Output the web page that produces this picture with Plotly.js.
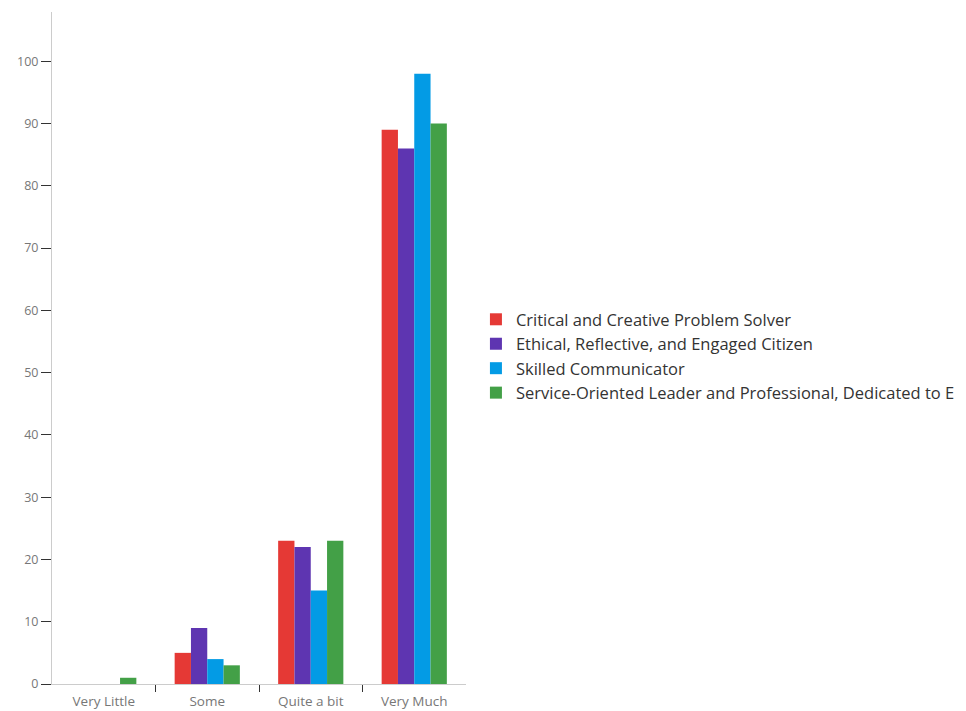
<!DOCTYPE html>
<html>
<head>
<meta charset="utf-8">
<script src="https://cdn.plot.ly/plotly-3.0.1.min.js"></script>
<style>html,body{margin:0;padding:0;background:#fff;overflow:hidden}#chart{width:966px;height:711px}</style>
</head>
<body>
<div id="chart"></div>
<script>
const categories = ["Very Little", "Some", "Quite a bit", "Very Much"];
const seriesNames = [
  "Critical and Creative Problem Solver",
  "Ethical, Reflective, and Engaged Citizen",
  "Skilled Communicator",
  "Service-Oriented Leader and Professional, Dedicated to E"
];
const criticalCreative = [0, 5, 23, 89];
const ethicalReflective = [0, 9, 22, 86];
const skilledCommunicator = [0, 4, 15, 98];
const serviceOriented = [1, 3, 23, 90];
const yTickVals = [0, 10, 20, 30, 40, 50, 60, 70, 80, 90, 100];
const boundaryTicks = [0.5, 1.5, 2.5];

const colors = ["#E53935", "#5E35B1", "#039BE5", "#43A047"];
const values = [criticalCreative, ethicalReflective, skilledCommunicator, serviceOriented];

const traces = values.map((v, i) => ({
  type: "bar",
  name: seriesNames[i],
  x: categories.map((c, j) => j),
  y: v,
  marker: {color: colors[i], line: {width: 0}},
  hoverinfo: "x+y+name"
}));
traces.push({type: "scatter", x: boundaryTicks, y: boundaryTicks.map(() => 0), xaxis: "x2", mode: "none", showlegend: false, hoverinfo: "skip"});

const fontFam = "'Open Sans', 'Noto Sans', sans-serif";
const layout = {
  width: 966, height: 711,
  margin: {l: 52, r: 500, t: 12, b: 27, pad: 0, autoexpand: false},
  paper_bgcolor: "#ffffff", plot_bgcolor: "#ffffff",
  barmode: "group", bargap: 0.37, bargroupgap: 0,
  font: {family: fontFam, color: "#333"},
  xaxis: {
    range: [-0.5, 3.5], tickmode: "array", tickvals: [0, 1, 2, 3], ticktext: categories,
    showline: true, linecolor: "#cccccc", linewidth: 1, showgrid: false, zeroline: false,
    ticks: "", ticklabelstandoff: 5, tickfont: {size: 13.5, color: "#777", family: fontFam}, fixedrange: true
  },
  xaxis2: {
    overlaying: "x", range: [-0.5, 3.5], tickmode: "array", tickvals: boundaryTicks,
    showticklabels: false, ticks: "outside", ticklen: 7, tickwidth: 1, tickcolor: "#333",
    showgrid: false, zeroline: false, showline: false, side: "bottom", anchor: "y"
  },
  yaxis: {
    range: [0, 107.9], tickmode: "array", tickvals: yTickVals,
    showline: true, linecolor: "#cccccc", linewidth: 1, showgrid: false, zeroline: false,
    ticks: "outside", ticklen: 10, tickwidth: 1, tickcolor: "#333",
    tickfont: {size: 12.5, color: "#777", family: fontFam}
  },
  showlegend: true,
  legend: {
    x: 1.024, xanchor: "left", xref: "paper", y: 0.488, yanchor: "middle",
    font: {size: 16.5, color: "#333", family: fontFam},
    bgcolor: "rgba(0,0,0,0)", tracegroupgap: 0
  }
};
Plotly.newPlot("chart", traces, layout, {displayModeBar: false, staticPlot: true});
</script>
</body>
</html>
